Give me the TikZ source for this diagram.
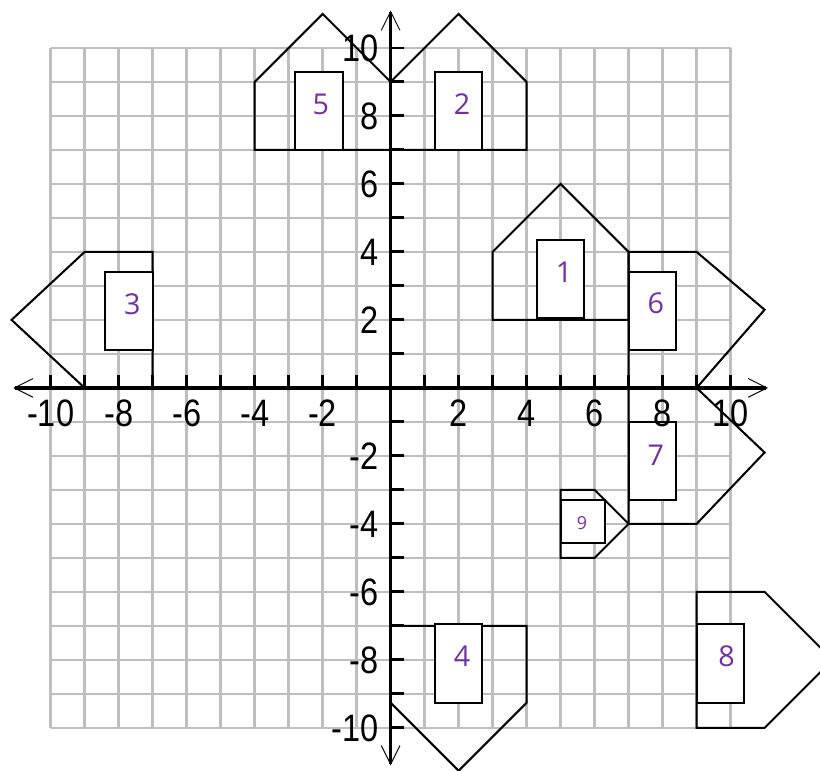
\documentclass[tikz,border=0pt]{standalone}
\usepackage{fontspec}
\setmainfont{Liberation Sans}
\newfontfamily\housefont{Open Sans}
\usepackage{tikz}
\usetikzlibrary{arrows.meta}
\usetikzlibrary{positioning}
\definecolor{gridgray}{RGB}{190,190,190}
\definecolor{labelpurple}{RGB}{112,48,160}
\newcommand{\narrow}[1]{\scalebox{0.85}[1]{#1}}
\tikzset{house/.style={line width=1.7pt,line join=miter},door/.style={draw,fill=white,line width=1.7pt},hlabel/.style={text=labelpurple,inner sep=0pt,font=\housefont\fontsize{24}{24}\selectfont},ticklabel/.style={inner sep=0pt,font=\fontsize{32}{32}\selectfont},axis/.style={line width=2.8pt,{Straight Barb[length=5.5mm,width=5.5mm,line width=0.8pt]}-{Straight Barb[length=5.5mm,width=5.5mm,line width=0.8pt]}}}

\begin{document}
\begin{tikzpicture}
\useasboundingbox (-11.49,-11.24) rectangle (12.63,11.41);
\draw[gridgray,line width=2.2pt] (-10,-10) grid (10,10);

\draw[house] (3,2) -- (3,4) -- (5,6) -- (7,4) -- (7,2) -- cycle;
\draw[door] (4.3,2.05) rectangle (5.7,4.35);
\node (h1) [hlabel] at (5.1,3.4) {1};

\draw[house] (0,7) -- (0,9) -- (2,11) -- (4,9) -- (4,7) -- cycle;
\draw[door] (1.3,7) rectangle (2.7,9.3);
\node (h2) [hlabel] at (2.1,8.35) {2};

\draw[house] (-7,0) -- (-7,4) -- (-9,4) -- (-11.15,2) -- (-9,0) -- cycle;
\draw[door] (-8.4,1.12) rectangle (-7,3.41);
\node (h3) [hlabel] at (-7.6,2.45) {3};

\draw[house] (0,-7) -- (0,-9.26) -- (2,-11.26) -- (4,-9.26) -- (4,-7) -- cycle;
\draw[door] (1.3,-9.26) rectangle (2.7,-6.95);
\node (h4) [hlabel] at (2.1,-7.88) {4};

\draw[house] (0,7) -- (0,9) -- (-2,11) -- (-4,9) -- (-4,7) -- cycle;
\draw[door] (-2.8,7) rectangle (-1.4,9.3);
\node (h5) [hlabel] at (-2.05,8.35) {5};

\draw[house] (7,0) -- (7,4) -- (9,4) -- (11,2.3) -- (9,0) -- cycle;
\draw[door] (7,1.12) rectangle (8.4,3.41);
\node (h6) [hlabel] at (7.8,2.5) {6};

\draw[house] (7,0) -- (7,-4) -- (9,-4) -- (11,-1.9) -- (9,0) -- cycle;
\draw[door] (7,-3.3) rectangle (8.4,-1);
\node (h7) [hlabel] at (7.8,-1.97) {7};

\draw[house] (9,-6) -- (11,-6) -- (13,-8) -- (11,-10) -- (9,-10) -- cycle;
\draw[door] (9,-9.26) rectangle (10.4,-6.95);
\node (h8) [hlabel] at (9.88,-7.88) {8};

\draw[house] (5,-3) -- (6,-3) -- (7,-4) -- (6,-5) -- (5,-5) -- cycle;
\draw[door] (5,-4.55) rectangle (6.3,-3.3);
\node (h9) [hlabel,font=\housefont\fontsize{15}{15}\selectfont] at (5.63,-3.97) {9};

\coordinate (xmin) at (-11.1,0);
\coordinate (xmax) at (11.1,0);
\coordinate (ymin) at (0,-11.1);
\coordinate (ymax) at (0,11.1);
\draw[axis] (xmin) -- (xmax);
\draw[axis] (ymin) -- (ymax);
\foreach \i in {-10,...,-1,1,2,...,10} {
  \draw[line width=2.4pt] (\i,0) -- (\i,0.38);
  \draw[line width=2.4pt] (0,\i) -- (0.38,\i);
}
\foreach \i [count=\k] in {-10,-8,-6,-4,-2,2,4,6,8,10} {
  \node (xl\k) [ticklabel] at (\i,-0.75) {\narrow{\i}};
  \node (yl\k) [ticklabel,anchor=east] at (-0.35,\i) {\narrow{\i}};
}
\end{tikzpicture}
\end{document}
